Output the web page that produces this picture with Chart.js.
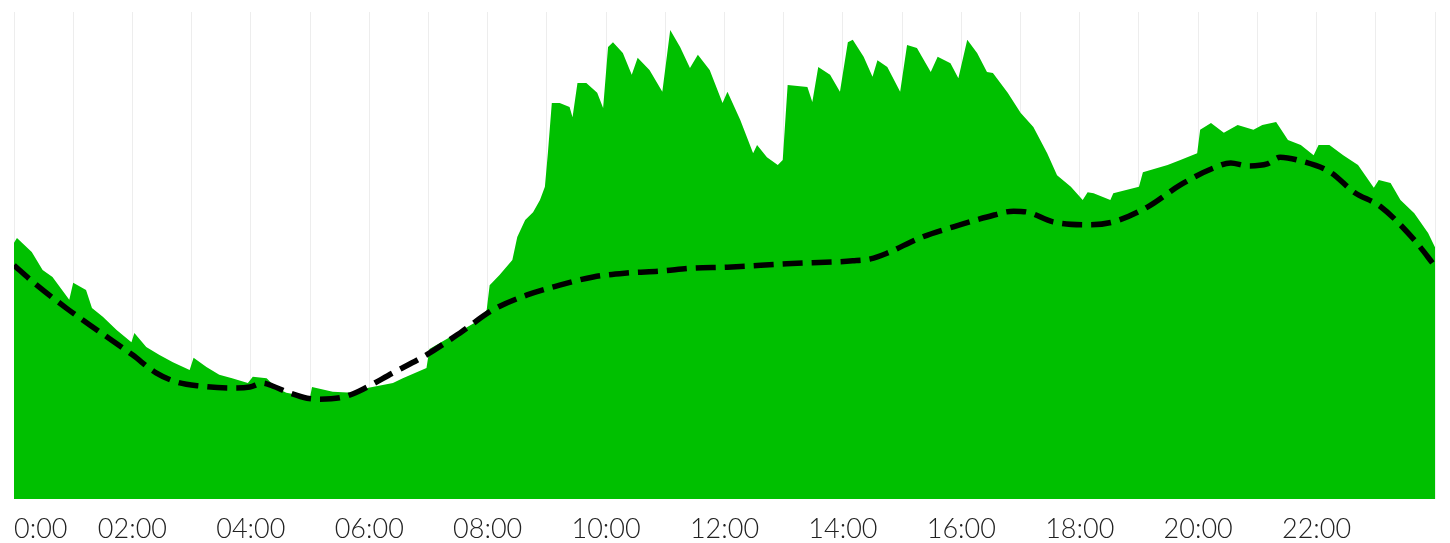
<!DOCTYPE html>
<html>
<head>
<meta charset="utf-8">
<script src="https://cdn.jsdelivr.net/npm/chart.js@4"></script>
<style>
  html, body { margin: 0; padding: 0; background: #fff; }
  #wrap { width: 1450px; height: 543px; position: relative; }
</style>
</head>
<body>
<div id="wrap"><canvas id="c"></canvas></div>
<script>
// Tick labels (every 2 hours)
const tickLabels = ["0:00","02:00","04:00","06:00","08:00","10:00","12:00","14:00","16:00","18:00","20:00","22:00"];

// Load series (green area): time of reading, value
const loadTimes = ["00:00","00:03","00:18","00:29","00:39","00:56","01:00","01:13","01:19","01:30","01:44","01:59","02:02","02:14","02:27","02:41","02:58","03:02","03:15","03:28","03:41","03:57","04:02","04:16","04:26","04:36","05:00","05:02","05:23","05:43","05:58","06:24","06:34","06:58","07:01","07:29","07:52","07:59","08:02","08:12","08:25","08:30","08:38","08:46","08:53","08:58","09:01","09:05","09:13","09:23","09:26","09:31","09:40","09:51","09:57","10:02","10:07","10:17","10:26","10:32","10:44","10:57","11:05","11:15","11:25","11:33","11:45","11:58","12:03","12:16","12:29","12:33","12:43","12:54","12:59","13:04","13:24","13:29","13:35","13:47","13:57","14:05","14:10","14:21","14:30","14:35","14:45","14:58","15:05","15:15","15:29","15:36","15:49","15:57","16:06","16:16","16:26","16:32","16:47","17:00","17:13","17:27","17:37","17:51","18:03","18:08","18:14","18:31","18:34","19:00","19:04","19:29","19:42","19:59","20:02","20:13","20:26","20:40","20:56","21:05","21:19","21:31","21:44","21:57","22:02","22:13","22:27","22:42","22:58","23:03","23:15","23:25","23:39","23:53","24:00"];
const loadValues = [52.6,53.6,50.7,47.0,45.6,40.9,44.4,42.9,39.2,37.4,34.7,32.2,34.1,31.2,29.6,28.1,26.5,29.0,27.1,25.5,24.8,23.8,25.1,24.8,22.8,21.8,20.9,23.0,22.0,21.8,22.8,23.8,24.8,26.9,30.8,34.1,36.8,38.8,43.9,46.0,49.1,53.8,57.3,58.9,61.4,64.1,71.0,81.3,81.3,80.5,78.4,85.4,85.4,83.4,80.3,92.8,93.8,91.6,87.1,90.6,88.1,83.6,96.3,92.8,88.5,91.2,88.1,81.3,83.6,77.8,71.0,72.7,70.2,68.6,69.6,85.0,84.6,81.5,88.7,87.1,83.6,93.8,94.3,90.8,86.7,90.1,88.7,83.6,93.2,92.6,87.7,90.8,89.5,86.4,94.3,91.6,87.7,87.5,83.4,79.3,76.4,71.0,66.5,64.1,61.4,63.0,62.8,61.4,62.8,64.1,67.1,68.6,69.6,71.0,75.8,77.2,75.2,76.8,75.8,76.8,77.4,73.7,72.7,70.6,72.7,72.7,70.6,68.6,63.9,65.5,64.9,61.4,58.7,54.6,51.7];

// Smoothed trend (dashed line)
const trendTimes = ["00:00","00:19","00:53","01:27","02:00","02:24","02:45","03:08","03:41","03:59","04:12","04:22","04:39","04:57","05:10","05:33","05:50","06:24","06:58","07:32","08:05","08:40","09:13","09:47","10:21","10:55","11:28","12:03","13:03","14:10","14:28","14:45","15:18","15:52","16:26","16:53","17:07","17:33","18:08","18:34","19:09","19:42","20:16","20:33","20:50","21:10","21:23","21:41","22:14","22:38","23:05","23:39","24:00"];
const trendValues = [48.0,44.6,39.2,34.3,29.6,25.9,24.0,23.2,22.8,23.0,23.8,23.2,21.8,20.7,20.5,20.9,22.2,25.9,29.6,34.1,38.8,41.9,43.9,45.6,46.4,46.8,47.4,47.6,48.3,48.9,49.3,50.5,53.6,55.9,57.9,59.1,58.9,56.9,56.3,56.9,60.0,64.5,68.0,69.0,68.4,68.8,70.2,69.6,67.1,63.0,60.0,53.2,47.8];

const toHours = t => { const [h, m] = t.split(":").map(Number); return h + m / 60; };
const loadPts = loadTimes.map((t, i) => ({ x: toHours(t), y: loadValues[i] }));
const trendPts = trendTimes.map((t, i) => ({ x: toHours(t), y: trendValues[i] }));

new Chart(document.getElementById("c"), {
  type: "line",
  data: {
    datasets: [
      {
        label: "Trend",
        data: trendPts,
        borderColor: "#000",
        borderWidth: 5.5,
        borderDash: [20, 9],
        pointRadius: 0,
        fill: false,
        cubicInterpolationMode: "monotone",
        order: 0
      },
      {
        label: "Load",
        data: loadPts,
        borderWidth: 0,
        borderColor: "#00c000",
        backgroundColor: "#00c000",
        pointRadius: 0,
        fill: "origin",
        tension: 0,
        order: 1
      }
    ]
  },
  options: {
    responsive: true,
    maintainAspectRatio: false,
    animation: false,
    layout: { padding: { left: 14, right: 15, top: 12, bottom: 0 } },
    plugins: { legend: { display: false }, tooltip: { enabled: false } },
    scales: {
      x: {
        type: "linear",
        min: 0,
        max: 24,
        border: { display: false },
        grid: { color: "rgba(0,0,0,0.07)", drawTicks: false, lineWidth: 1 },
        afterFit: s => { s.height = 44; },
        ticks: {
          stepSize: 1,
          autoSkip: false,
          maxRotation: 0,
          align: "inner",
          padding: 12,
          color: "#222",
          font: { family: "Lato", size: 27, weight: "300", lineHeight: 1.33 },
          callback: v => (v % 2 === 0 && v < 24) ? tickLabels[v / 2] : ""
        }
      },
      y: {
        display: false,
        min: 0,
        max: 100
      }
    }
  }
});
</script>
</body>
</html>
